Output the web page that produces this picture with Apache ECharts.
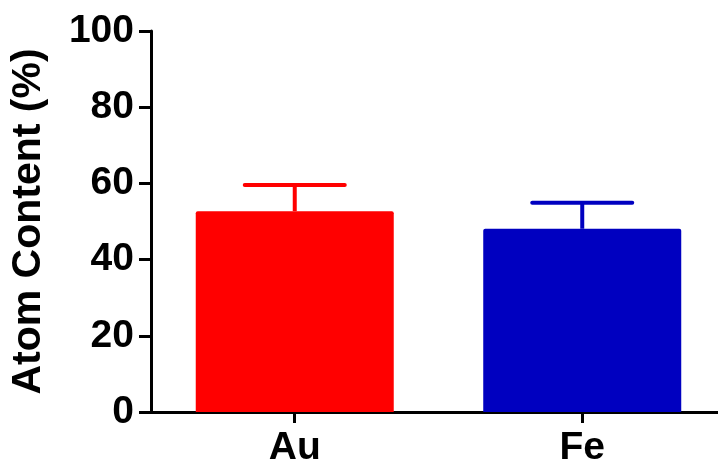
<!DOCTYPE html>
<html><head><meta charset="utf-8">
<script src="https://cdn.jsdelivr.net/npm/echarts@6/dist/echarts.min.js"></script>
<style>html,body{margin:0;padding:0;background:#fff}#c{width:718px;height:468px}</style>
</head><body><div id="c"></div>
<script>
const categories = ['Au', 'Fe'];
const means = [52.7, 48.1];
const errors = [6.9, 6.8];
const colors = ['#ff0000', '#0000c0'];
const yTicks = [0, 20, 40, 60, 80, 100];

const chart = echarts.init(document.getElementById('c'));
const font = 'Liberation Sans, Arial, sans-serif';
const idx = categories.map((c, i) => i);
chart.setOption({
  animation: false,
  grid: { left: 150, top: 31, right: 0, height: 382, containLabel: false },
  xAxis: {
    type: 'value', min: -0.5, max: -0.5 + 568 / 288,
    splitLine: { show: false },
    axisLine: { show: true, onZero: false, lineStyle: { color: '#000', width: 3 } },
    axisTick: { show: true, customValues: idx, length: 11, lineStyle: { color: '#000', width: 3 } },
    axisLabel: { customValues: idx, color: '#000', fontFamily: font, fontWeight: 'bold', fontSize: 39, margin: 17,
      formatter: v => categories[Math.round(v)] || '' }
  },
  yAxis: {
    type: 'value', min: 0, max: 100, interval: 20,
    name: 'Atom Content (%)', nameLocation: 'middle', nameGap: 102, nameRotate: 90,
    nameTextStyle: { color: '#000', fontFamily: font, fontWeight: 'bold', fontSize: 41 },
    axisLine: { show: true, onZero: false, lineStyle: { color: '#000', width: 3 } },
    axisTick: { show: true, length: 12, lineStyle: { color: '#000', width: 3 } },
    axisLabel: { color: '#000', fontFamily: font, fontWeight: 'bold', fontSize: 39, margin: 17,
      formatter: v => yTicks.includes(v) ? String(v) : '' },
    splitLine: { show: false }
  },
  series: [
    {
      type: 'custom',
      z: 1,
      data: categories.map((c, i) => [i, means[i], means[i] + errors[i]]),
      renderItem: function (params, api) {
        const i = api.value(0);
        const base = api.coord([i, api.value(1)]);
        const top = api.coord([i, api.value(2)]);
        const half = 50;
        const col = colors[params.dataIndex];
        return {
          type: 'group',
          children: [
            { type: 'line', shape: { x1: base[0], y1: base[1], x2: top[0], y2: top[1] },
              style: { stroke: col, lineWidth: 4 } },
            { type: 'line', shape: { x1: top[0] - half, y1: top[1], x2: top[0] + half, y2: top[1] },
              style: { stroke: col, lineWidth: 4, lineCap: 'round' } }
          ]
        };
      }
    },
    {
      type: 'bar', z: 2,
      barWidth: 198,
      data: means.map((v, i) => ({ value: [i, v], itemStyle: { color: colors[i], borderRadius: [2, 2, 0, 0] } }))
    }
  ]
});
</script></body></html>
